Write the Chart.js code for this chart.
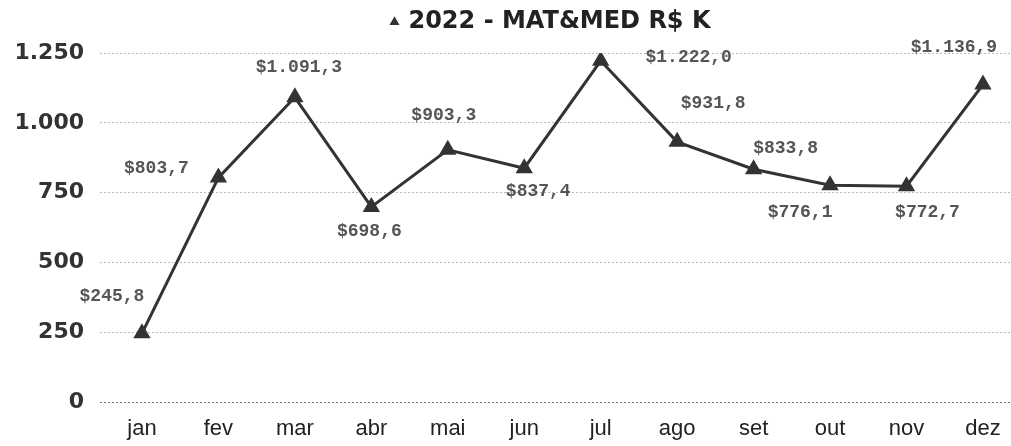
<!DOCTYPE html>
<html>
<head>
<meta charset="utf-8">
<script src="https://cdn.jsdelivr.net/npm/chart.js@4.4.1/dist/chart.umd.min.js"></script>
<style>
html,body{margin:0;padding:0;background:#fff;overflow:hidden;}
#c{display:block;}
</style>
</head>
<body>
<canvas id="c" width="1011" height="446"></canvas>
<script>
const months = ['jan','fev','mar','abr','mai','jun','jul','ago','set','out','nov','dez'];
const values = [245.8, 803.7, 1091.3, 698.6, 903.3, 837.4, 1222.0, 931.8, 833.8, 776.1, 772.7, 1136.9];
const seriesName = '2022 - MAT&MED R$ K';
const yTicks = [0, 250, 500, 750, 1000, 1250];
// label placement relative to each point (style only)
const labelOffsets = [[-30,-37],[-62,-9],[4,-30],[-2,25],[-4,-34],[14,23],[88,-3],[36,-38],[32,-21],[-30,27],[21,26],[-29,-37]];

function fmtThousands(v, dec) {
  const s = v.toFixed(dec);
  const parts = s.split('.');
  const int = parts[0].replace(/\B(?=(\d{3})+(?!\d))/g, '.');
  return parts.length > 1 ? int + ',' + parts[1] : int;
}

const dataLabels = {
  id: 'dataLabels',
  afterDatasetsDraw(chart) {
    const ctx = chart.ctx;
    const meta = chart.getDatasetMeta(0);
    ctx.save();
    ctx.font = 'bold 18px "Liberation Mono", monospace';
    ctx.fillStyle = '#555';
    ctx.textAlign = 'center';
    ctx.textBaseline = 'middle';
    meta.data.forEach((el, i) => {
      const o = labelOffsets[i];
      ctx.fillText('$' + fmtThousands(values[i], 1), el.x + o[0], el.y + o[1]);
    });
    ctx.restore();
  }
};

// nudge the legend (title line) to match the reference placement
const legendShift = {
  id: 'legendShift',
  afterLayout(chart) {
    const lg = chart.legend;
    if (!lg) return;
    lg.left += 46; lg.right += 46;
    lg.top -= 9; lg.bottom -= 9;
  }
};

new Chart(document.getElementById('c'), {
  type: 'line',
  data: {
    datasets: [{
      label: seriesName,
      data: values.map((v, i) => ({x: i, y: v})),
      borderColor: '#333',
      backgroundColor: '#333',
      borderWidth: 3,
      pointStyle: 'triangle',
      pointRadius: 7,
      pointBackgroundColor: '#333',
      pointBorderColor: '#333',
      tension: 0
    }]
  },
  options: {
    responsive: false,
    animation: false,
    devicePixelRatio: 1,
    layout: {autoPadding: false, padding: {left: 0, right: 0, top: 5, bottom: 0}},
    plugins: {
      legend: {
        display: true,
        position: 'top',
        labels: {
          usePointStyle: true,
          pointStyle: 'triangle',
          boxHeight: 4,
          boxWidth: 4,
          color: '#222',
          padding: 14,
          font: {family: '"DejaVu Sans", sans-serif', size: 24, weight: 'bold'}
        }
      },
      tooltip: {enabled: false}
    },
    scales: {
      x: {
        type: 'linear',
        min: -0.549,
        max: 11.367,
        afterBuildTicks(scale) { scale.ticks = months.map((m, i) => ({value: i})); },
        afterFit(scale) { scale.height = 44; scale.paddingRight = 0; scale.paddingLeft = 0; },
        grid: {display: false, drawTicks: false},
        border: {display: false},
        ticks: {
          callback: (v) => months[v],
          color: '#222',
          padding: 14,
          autoSkip: false,
          maxRotation: 0,
          font: {family: '"Liberation Sans", Arial, sans-serif', size: 22}
        }
      },
      y: {
        min: 0,
        max: 1250,
        afterBuildTicks(scale) { scale.ticks = yTicks.map(v => ({value: v})); },
        afterFit(scale) { scale.width = 100; },
        grid: {
          drawTicks: false,
          color: (c) => c.tick && c.tick.value === 0 ? '#777' : '#bbb',
          lineWidth: 1
        },
        border: {display: false, dash: [2, 2]},
        ticks: {
          callback: (v) => fmtThousands(v, 0),
          color: '#333',
          padding: 16,
          font: {family: '"DejaVu Sans", sans-serif', size: 22, weight: 'bold'}
        }
      }
    }
  },
  plugins: [dataLabels, legendShift]
});
</script>
</body>
</html>
